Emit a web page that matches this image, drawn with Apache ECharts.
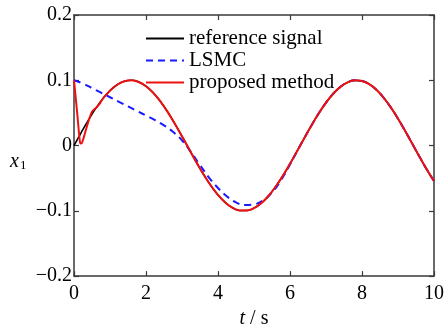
<!DOCTYPE html>
<html>
<head>
<meta charset="utf-8">
<script src="https://cdn.jsdelivr.net/npm/echarts@6/dist/echarts.min.js"></script>
<style>
  html, body { margin: 0; padding: 0; background: #fff; }
  #chart { width: 447px; height: 334px; }
</style>
</head>
<body>
<div id="chart"></div>
<script>
// time axis (s) and x1 values
const refT = [0, 0.2, 0.4, 0.6, 0.8, 1.0, 1.2, 1.4, 1.6, 1.8, 2.0, 2.2, 2.4, 2.6, 2.8, 3.0, 3.2, 3.4, 3.6, 3.8,
  4.0, 4.2, 4.4, 4.6, 4.8, 5.0, 5.2, 5.4, 5.6, 5.8, 6.0, 6.2, 6.4, 6.6, 6.8, 7.0, 7.2, 7.4, 7.6, 7.8,
  8.0, 8.2, 8.4, 8.6, 8.8, 9.0, 9.2, 9.4, 9.6, 9.8, 10.0];
const refX = [0, 0.0199, 0.0389, 0.0565, 0.0717, 0.0841, 0.0932, 0.0985, 0.1, 0.0974, 0.0909, 0.0809, 0.0676,
  0.0516, 0.0335, 0.0141, -0.0058, -0.0256, -0.0443, -0.0612, -0.0757, -0.0872, -0.0952, -0.0994, -0.0996,
  -0.0959, -0.0884, -0.0773, -0.0631, -0.0465, -0.0279, -0.0083, 0.0117, 0.0312, 0.0494, 0.0657, 0.0794,
  0.0899, 0.0968, 0.0999, 0.0989, 0.0941, 0.0855, 0.0734, 0.0585, 0.0412, 0.0223, 0.0025, -0.0174, -0.0367, -0.0544];

const lsmcT = [0, 0.25, 0.5, 0.75, 1.0, 1.25, 1.5, 1.75, 2.0, 2.25, 2.5, 2.75, 3.0, 3.25, 3.5, 3.75, 4.0, 4.25,
  4.5, 4.75, 5.0, 5.25, 5.5, 5.75, 6.0, 6.2, 6.4, 6.6, 6.8, 7.0, 7.2, 7.4, 7.6, 7.8, 8.0, 8.2, 8.4, 8.6, 8.8,
  9.0, 9.2, 9.4, 9.6, 9.8, 10.0];
const lsmcX = [0.1, 0.095, 0.088, 0.081, 0.074, 0.067, 0.06, 0.053, 0.046, 0.039, 0.031, 0.021, 0.008, -0.01,
  -0.03, -0.049, -0.065, -0.078, -0.087, -0.091, -0.09, -0.084, -0.072, -0.053, -0.029, -0.0083, 0.0117,
  0.0312, 0.0494, 0.0657, 0.0794, 0.0899, 0.0968, 0.0999, 0.0989, 0.0941, 0.0855, 0.0734, 0.0585, 0.0412,
  0.0223, 0.0025, -0.0174, -0.0367, -0.0544];

const propT = [0, 0.05, 0.1, 0.15, 0.18, 0.22, 0.3, 0.4, 0.5, 0.55, 0.6, 0.7, 0.8, 1.0, 1.2, 1.4, 1.6, 1.8, 2.0,
  2.2, 2.4, 2.6, 2.8, 3.0, 3.2, 3.4, 3.6, 3.8, 4.0, 4.2, 4.4, 4.6, 4.8, 5.0, 5.2, 5.4, 5.6, 5.8, 6.0, 6.2,
  6.4, 6.6, 6.8, 7.0, 7.2, 7.4, 7.6, 7.8, 8.0, 8.2, 8.4, 8.6, 8.8, 9.0, 9.2, 9.4, 9.6, 9.8, 10.0];
const propX = [0.1, 0.072, 0.043, 0.013, 0.003, 0.004, 0.018, 0.037, 0.052, 0.055, 0.057, 0.063, 0.0717,
  0.0841, 0.0932, 0.0985, 0.1, 0.0974, 0.0909, 0.0809, 0.0676, 0.0516, 0.0335, 0.0141, -0.0058, -0.0256,
  -0.0443, -0.0612, -0.0757, -0.0872, -0.0952, -0.0994, -0.0996, -0.0959, -0.0884, -0.0773, -0.0631,
  -0.0465, -0.0279, -0.0083, 0.0117, 0.0312, 0.0494, 0.0657, 0.0794, 0.0899, 0.0968, 0.0999, 0.0989,
  0.0941, 0.0855, 0.0734, 0.0585, 0.0412, 0.0223, 0.0025, -0.0174, -0.0367, -0.0544];

const names = ['reference signal', 'LSMC', 'proposed method'];

const pairs = (t, v) => t.map((x, i) => [x, v[i]]);
const serif = 'Liberation Serif';
const axisColor = '#3a3a3a';

const chart = echarts.init(document.getElementById('chart'));

const boxAxis = (extra) => Object.assign({
  axisLine: { show: true, onZero: false, lineStyle: { color: axisColor, width: 1.5 } },
  axisTick: { show: true, inside: true, length: 5, lineStyle: { color: axisColor, width: 1.2 } },
  splitLine: { show: false },
}, extra);

chart.setOption({
  animation: false,
  grid: { left: 74, right: 10, top: 15, bottom: 47 },
  legend: {
    data: names,
    orient: 'vertical',
    left: 145,
    top: 28,
    padding: 0,
    itemWidth: 38,
    itemHeight: 12,
    itemGap: 1,
    itemStyle: { opacity: 0 },
    textStyle: { fontFamily: serif, fontSize: 21, lineHeight: 19, color: '#000' },
  },
  graphic: [{
    type: 'text',
    left: 10,
    top: 152,
    style: {
      text: '{i|x}{s|1}',
      rich: {
        i: { fontFamily: serif, fontStyle: 'italic', fontSize: 20, fill: '#000' },
        s: { fontFamily: serif, fontSize: 13, fill: '#000', padding: [8, 0, 0, 1] },
      },
    },
  }],
  xAxis: [
    boxAxis({
      type: 'value', min: 0, max: 10, interval: 2,
      name: '{i|t} / s', nameLocation: 'middle', nameGap: 32,
      nameTextStyle: {
        fontFamily: serif, fontSize: 20, color: '#000',
        rich: { i: { fontFamily: serif, fontStyle: 'italic', fontSize: 20, color: '#000' } },
      },
      axisLabel: { fontFamily: serif, fontSize: 20, color: '#000', margin: 8 },
    }),
    boxAxis({ type: 'value', min: 0, max: 10, interval: 2, position: 'top', axisLabel: { show: false } }),
  ],
  yAxis: [
    boxAxis({
      type: 'value', min: -0.2, max: 0.2, interval: 0.1,
      axisLabel: {
        fontFamily: serif, fontSize: 20, color: '#000', margin: 2, padding: [0, 0, 6, 0],
        formatter: (v) => (Math.abs(v) < 1e-9 ? '0' : String(+v.toFixed(1)).replace('-', '\u2212')),
      },
    }),
    boxAxis({ type: 'value', min: -0.2, max: 0.2, interval: 0.1, position: 'right', axisLabel: { show: false } }),
  ],
  series: [
    {
      name: names[0], type: 'line', data: pairs(refT, refX), smooth: true, symbol: 'none',
      lineStyle: { color: '#000', width: 1.6 }, itemStyle: { color: '#000' },
    },
    {
      name: names[1], type: 'line', data: pairs(lsmcT, lsmcX), smooth: true, symbol: 'none',
      lineStyle: { color: '#1a1aff', width: 2, type: [7, 5] }, itemStyle: { color: '#1a1aff' },
    },
    {
      name: names[2], type: 'line', data: pairs(propT, propX), smooth: 0.3, symbol: 'none',
      lineStyle: { color: '#ee1111', width: 2 }, itemStyle: { color: '#ee1111' },
    },
  ],
});
</script>
</body>
</html>
